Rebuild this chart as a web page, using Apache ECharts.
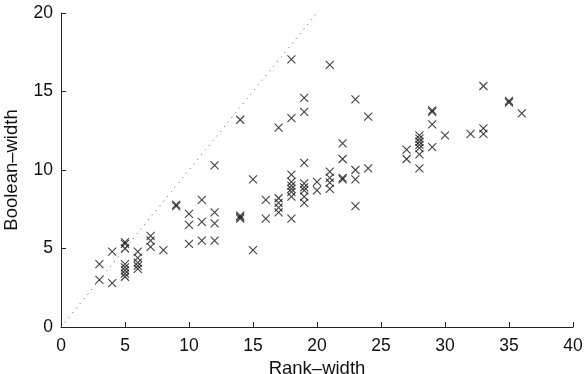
<!DOCTYPE html>
<html>
<head>
<meta charset="utf-8">
<script src="https://cdn.jsdelivr.net/npm/echarts@6/dist/echarts.min.js"></script>
<style>html,body{margin:0;padding:0;background:#fff}#c{width:587px;height:374px}</style>
</head>
<body>
<div id="c"></div>
<script>
var rankWidth = [
  3,3, 4,4,
  5,5,5,5,5,5,5,5,
  6,6,6,6,6,
  7,7,7, 8, 9,9,
  10,10,10, 11,11,11, 12,12,12,12,
  14,14,14,14, 15,15, 16,16,
  17,17,17,17,17,
  18,18,18,18,18,18,18,18,18,
  19,19,19,19,19,19,19,19,
  20,20, 21,21,21,21,21,
  22,22,22,22, 23,23,23,23, 24,24,
  27,27, 28,28,28,28,28,28,28,
  29,29,29,29, 30, 32, 33,33,33, 35,35, 36
];
var booleanWidth = [
  4.0,3.0, 4.8,2.8,
  5.4,5.3,5.0,4.0,3.8,3.6,3.4,3.2,
  4.8,4.4,4.1,3.9,3.7,
  5.8,5.5,5.1, 4.9, 7.8,7.7,
  7.2,6.5,5.3, 8.1,6.7,5.5, 10.3,7.3,6.6,5.5,
  13.2,7.1,7.0,6.9, 9.4,4.9, 8.1,6.9,
  12.7,8.2,7.9,7.6,7.3,
  17.05,13.3,9.7,9.25,9.0,8.8,8.6,8.3,6.9,
  14.6,13.7,10.45,9.15,8.9,8.7,8.3,7.9,
  9.25,8.7, 16.7,9.9,9.5,9.2,8.8,
  11.7,10.7,9.5,9.4, 14.5,10.0,9.4,7.7, 13.4,10.1,
  11.3,10.7, 12.2,12.0,11.8,11.6,11.4,11.0,10.1,
  13.8,13.7,12.9,11.45, 12.2, 12.3, 15.35,12.65,12.3, 14.4,14.3, 13.6
];
var diagX = [0, 20];
var diagY = [0, 20];
var xTicks = [0,5,10,15,20,25,30,35,40];
var yTicks = [0,5,10,15,20];

var pts = rankWidth.map(function(x,i){return [x, booleanWidth[i]];});
var diag = diagX.map(function(x,i){return [x, diagY[i]];});

var font = '"Liberation Sans", Arial, Helvetica, sans-serif';
var chart = echarts.init(document.getElementById('c'), null, {renderer:'canvas'});
chart.setOption({
  animation: false,
  backgroundColor: '#fff',
  grid: {left: 61, right: 14, top: 13, bottom: 47, containLabel: false, outerBoundsMode: 'none'},
  xAxis: {
    type: 'value', min: xTicks[0], max: xTicks[xTicks.length-1], interval: 5,
    name: 'Rank–width', nameLocation: 'middle', nameGap: 28,
    nameTextStyle: {fontFamily: font, fontSize: 18.5, color: '#111'},
    axisLine: {show: true, lineStyle: {color: '#222', width: 1}},
    axisTick: {show: true, inside: true, length: 5, lineStyle: {color: '#222'}},
    axisLabel: {fontFamily: font, fontSize: 17.5, color: '#111', margin: 10},
    splitLine: {show: false}
  },
  yAxis: {
    type: 'value', min: yTicks[0], max: yTicks[yTicks.length-1], interval: 5,
    name: 'Boolean–width', nameLocation: 'middle', nameGap: 40, nameRotate: 90,
    nameTextStyle: {fontFamily: font, fontSize: 18.5, color: '#111'},
    axisLine: {show: true, lineStyle: {color: '#222', width: 1}},
    axisTick: {show: true, inside: true, length: 5, lineStyle: {color: '#222'}},
    axisLabel: {fontFamily: font, fontSize: 17.5, color: '#111', margin: 8},
    splitLine: {show: false}
  },
  series: [
    {
      type: 'line', data: diag, showSymbol: false, symbol: 'none',
      lineStyle: {color: '#555', width: 1, type: [1, 5]}, silent: true, z: 1
    },
    {
      type: 'scatter', data: pts,
      symbol: 'path://M0,0L10,10M10,0L0,10', symbolSize: 8,
      itemStyle: {color: 'rgba(0,0,0,0)', borderColor: '#111', borderWidth: 1.1},
      z: 2
    }
  ]
});
</script>
</body>
</html>
